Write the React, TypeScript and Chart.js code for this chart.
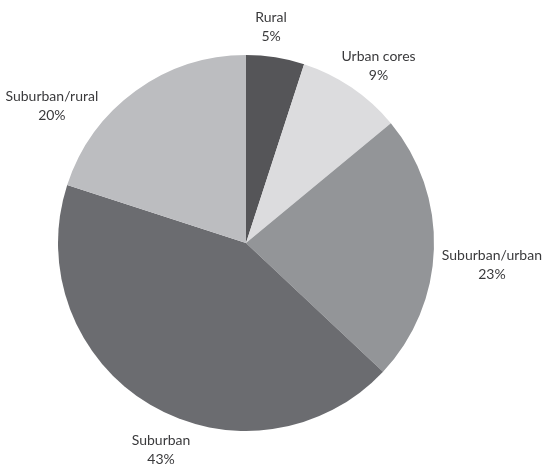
import React, { useEffect, useRef } from "react";
import { Chart, registerables } from "chart.js";

Chart.register(...registerables);

const categories = ["Rural", "Urban cores", "Suburban/urban", "Suburban", "Suburban/rural"];
const shares = [5, 9, 23, 43, 20];
const percentLabels = ["5%", "9%", "23%", "43%", "20%"];
const sliceColors = ["#555558", "#dcdcde", "#939598", "#6b6c70", "#bcbdc0"];
// pixel nudges of each label block relative to its mid-angle anchor
const labelNudges: [number, number][] = [
  [-9, -1],
  [10, 3],
  [28, 15],
  [26, 19],
  [-66, 39],
];

const labelPlugin = {
  id: "outerLabels",
  afterDraw(chart: any) {
    const ctx = chart.ctx;
    const meta = chart.getDatasetMeta(0);
    ctx.save();
    ctx.font = "14px Lato";
    ctx.fillStyle = "#3a3a3c";
    ctx.textAlign = "center";
    ctx.textBaseline = "middle";
    meta.data.forEach((arc: any, i: number) => {
      const { x, y, startAngle, endAngle, outerRadius } = arc.getProps(
        ["x", "y", "startAngle", "endAngle", "outerRadius"],
        true
      );
      const mid = (startAngle + endAngle) / 2;
      const r = outerRadius + 30;
      const ax = x + Math.cos(mid) * r + labelNudges[i][0];
      const ay = y + Math.sin(mid) * r + labelNudges[i][1];
      ctx.fillText(categories[i], ax, ay - 9.5);
      ctx.fillText(percentLabels[i], ax, ay + 9.5);
    });
    ctx.restore();
  },
};

export default function App() {
  const ref = useRef<HTMLCanvasElement | null>(null);
  useEffect(() => {
    document.body.style.margin = "0";
    const chart = new Chart(ref.current!, {
      type: "pie",
      data: {
        labels: categories,
        datasets: [
          {
            data: shares,
            backgroundColor: sliceColors,
            borderWidth: 0,
          },
        ],
      },
      options: {
        responsive: false,
        animation: false,
        layout: { padding: { left: 58, right: 108, top: 55, bottom: 34 } },
        plugins: {
          legend: { display: false },
          tooltip: { enabled: false },
        },
      },
      plugins: [labelPlugin],
    });
    return () => chart.destroy();
  }, []);
  return (
    <div style={{ width: 542, height: 465, background: "#fff" }}>
      <canvas ref={ref} width={542} height={465} />
    </div>
  );
}
